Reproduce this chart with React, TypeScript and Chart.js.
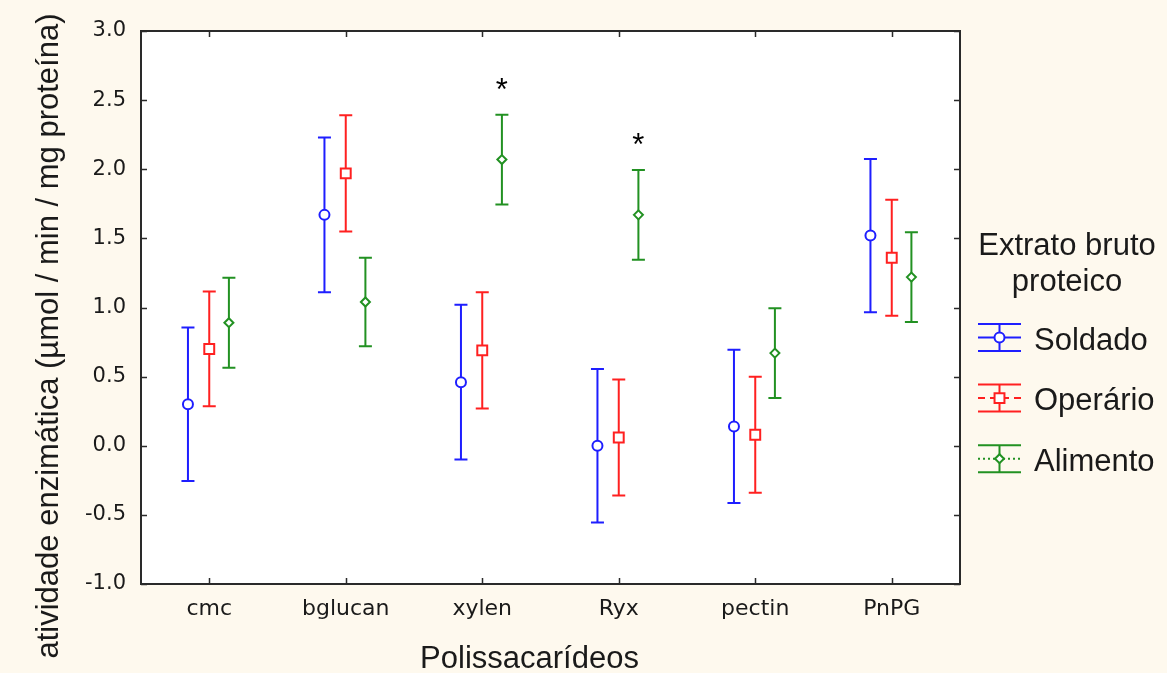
import React, { useEffect, useRef } from 'react';
import { Chart, registerables } from 'chart.js';

Chart.register(...registerables);

// ---------- data ----------
const categories = ['cmc', 'bglucan', 'xylen', 'Ryx', 'pectin', 'PnPG'];
const seriesNames = ['Soldado', 'Operário', 'Alimento'];
const soldadoMean = [0.30, 1.67, 0.46, 0.00, 0.14, 1.52];
const soldadoErr = [0.555, 0.56, 0.56, 0.555, 0.555, 0.555];
const operarioMean = [0.70, 1.97, 0.69, 0.06, 0.08, 1.36];
const operarioErr = [0.415, 0.42, 0.42, 0.42, 0.42, 0.42];
const alimentoMean = [0.89, 1.04, 2.07, 1.67, 0.67, 1.22];
const alimentoErr = [0.325, 0.32, 0.325, 0.325, 0.325, 0.325];
const starredAlimento = ['xylen', 'Ryx'];
const yTickValues = [-1, -0.5, 0, 0.5, 1, 1.5, 2, 2.5, 3];
const xTitle = 'Polissacarídeos';
const yTitle = 'atividade enzimática (µmol / min / mg proteína)';
const legendTitle = ['Extrato bruto', 'proteico'];

// ---------- styles ----------
const CREAM = '#fef9ee';
const INK = '#1a1a1a';
const seriesStyles = [
  { color: '#1e1eff', pointStyle: 'circle', radius: 5, dash: [] as number[], offset: -0.156 },
  { color: '#ff2020', pointStyle: 'rect', radius: 7, dash: [7, 5], offset: 0 },
  { color: '#229122', pointStyle: 'rectRot', radius: 4.5, dash: [2, 3], offset: 0.144 },
];
const means = [soldadoMean, operarioMean, alimentoMean];
const errs = [soldadoErr, operarioErr, alimentoErr];
const BIG_FONT = '31px "Liberation Sans", Arial, sans-serif';
const CAP = 6.5;

function drawMarker(ctx: CanvasRenderingContext2D, style: string, x: number, y: number, r: number) {
  ctx.beginPath();
  if (style === 'circle') {
    ctx.arc(x, y, r, 0, Math.PI * 2);
  } else if (style === 'rect') {
    const s = r * Math.SQRT1_2;
    ctx.rect(x - s, y - s, 2 * s, 2 * s);
  } else {
    ctx.moveTo(x - r, y);
    ctx.lineTo(x, y - r);
    ctx.lineTo(x + r, y);
    ctx.lineTo(x, y + r);
    ctx.closePath();
  }
  ctx.fillStyle = '#fff';
  ctx.fill();
  ctx.stroke();
}

const customPlugin = {
  id: 'customDecor',
  beforeDraw(chart: any) {
    const { ctx, chartArea: a } = chart;
    ctx.save();
    ctx.fillStyle = CREAM;
    ctx.fillRect(0, 0, chart.width, chart.height);
    ctx.fillStyle = '#ffffff';
    ctx.fillRect(a.left, a.top, a.right - a.left, a.bottom - a.top);
    ctx.restore();
  },
  beforeDatasetsDraw(chart: any) {
    const { ctx } = chart;
    const xs = chart.scales.x;
    const ys = chart.scales.y;
    ctx.save();
    ctx.lineWidth = 2;
    seriesStyles.forEach((st, s) => {
      ctx.strokeStyle = st.color;
      categories.forEach((_, i) => {
        const px = xs.getPixelForValue(i + st.offset);
        const pt = ys.getPixelForValue(means[s][i] + errs[s][i]);
        const pb = ys.getPixelForValue(means[s][i] - errs[s][i]);
        ctx.beginPath();
        ctx.moveTo(px, pt);
        ctx.lineTo(px, pb);
        ctx.moveTo(px - CAP, pt);
        ctx.lineTo(px + CAP, pt);
        ctx.moveTo(px - CAP, pb);
        ctx.lineTo(px + CAP, pb);
        ctx.stroke();
      });
    });
    ctx.restore();
  },
  afterDatasetsDraw(chart: any) {
    const { ctx, chartArea: a } = chart;
    const xs = chart.scales.x;
    const ys = chart.scales.y;
    ctx.save();
    // frame
    ctx.strokeStyle = '#2a2a2a';
    ctx.lineWidth = 2;
    ctx.strokeRect(a.left, a.top, a.right - a.left, a.bottom - a.top);
    ctx.beginPath();
    ctx.lineWidth = 1.5;
    yTickValues.forEach((v) => {
      const py = Math.round(ys.getPixelForValue(v)) + 0.5;
      ctx.moveTo(a.left, py);
      ctx.lineTo(a.left + 6, py);
      ctx.moveTo(a.right, py);
      ctx.lineTo(a.right - 6, py);
    });
    categories.forEach((_, i) => {
      const px = Math.round(xs.getPixelForValue(i)) + 0.5;
      ctx.moveTo(px, a.bottom);
      ctx.lineTo(px, a.bottom - 6);
      ctx.moveTo(px, a.top);
      ctx.lineTo(px, a.top + 6);
    });
    ctx.stroke();
    // stars
    ctx.fillStyle = '#000';
    ctx.font = BIG_FONT;
    ctx.textAlign = 'center';
    ctx.textBaseline = 'alphabetic';
    starredAlimento.forEach((c) => {
      const i = categories.indexOf(c);
      const px = xs.getPixelForValue(i + seriesStyles[2].offset);
      const pt = ys.getPixelForValue(alimentoMean[i] + alimentoErr[i]);
      ctx.fillText('*', px, pt - 15);
    });
    ctx.restore();
  },
  afterDraw(chart: any) {
    const { ctx, chartArea: a } = chart;
    ctx.save();
    ctx.fillStyle = INK;
    ctx.font = BIG_FONT;
    ctx.textBaseline = 'alphabetic';
    // x title
    ctx.textAlign = 'center';
    ctx.fillText(xTitle, (a.left + a.right) / 2 - 21, 668);
    // y title
    ctx.save();
    ctx.translate(58, 336);
    ctx.rotate(-Math.PI / 2);
    ctx.fillText(yTitle, 0, 0);
    ctx.restore();
    // legend title
    const lcx = 1067;
    ctx.fillText(legendTitle[0], lcx, 255);
    ctx.fillText(legendTitle[1], lcx, 291);
    // legend items
    const x0 = 978;
    const x1 = 1021;
    const xc = (x0 + x1) / 2;
    seriesStyles.forEach((st, s) => {
      const cy = 337.5 + s * 60.6;
      const h = 13.5;
      ctx.strokeStyle = st.color;
      ctx.lineWidth = 2;
      ctx.setLineDash([]);
      ctx.beginPath();
      ctx.moveTo(x0, cy - h);
      ctx.lineTo(x1, cy - h);
      ctx.moveTo(x0, cy + h);
      ctx.lineTo(x1, cy + h);
      ctx.moveTo(xc, cy - h);
      ctx.lineTo(xc, cy + h);
      ctx.stroke();
      ctx.setLineDash(st.dash);
      ctx.beginPath();
      ctx.moveTo(x0, cy);
      ctx.lineTo(x1, cy);
      ctx.stroke();
      ctx.setLineDash([]);
      drawMarker(ctx, st.pointStyle, xc, cy, st.radius);
      ctx.fillStyle = INK;
      ctx.textAlign = 'left';
      ctx.fillText(seriesNames[s], 1034, cy + 12);
    });
    ctx.restore();
  },
};

export default function App() {
  const canvasRef = useRef<HTMLCanvasElement | null>(null);

  useEffect(() => {
    const canvas = canvasRef.current;
    if (!canvas) return;
    const datasets = seriesStyles.map((st, s) => ({
      label: seriesNames[s],
      data: categories.map((_, i) => ({ x: i + st.offset, y: means[s][i] })),
      pointStyle: st.pointStyle as any,
      pointRadius: st.radius,
      pointBorderWidth: 2,
      borderColor: st.color,
      pointBorderColor: st.color,
      pointBackgroundColor: '#ffffff',
      backgroundColor: '#ffffff',
      showLine: false,
    }));
    const chart = new Chart(canvas, {
      type: 'scatter',
      data: { datasets },
      options: {
        responsive: false,
        animation: false,
        devicePixelRatio: 1,
        layout: { padding: { top: 31, right: 207, left: 0, bottom: 0 } },
        plugins: { legend: { display: false }, tooltip: { enabled: false } },
        scales: {
          x: {
            type: 'linear',
            min: -0.5,
            max: 5.5,
            afterBuildTicks: (scale: any) => {
              scale.ticks = categories.map((_, i) => ({ value: i }));
            },
            afterFit: (scale: any) => {
              scale.height = 89;
            },
            ticks: {
              autoSkip: false,
              maxRotation: 0,
              minRotation: 0,
              padding: 12,
              color: INK,
              font: { family: '"DejaVu Sans", sans-serif', size: 22 },
              callback: (v: any) => categories[Math.round(Number(v))] ?? '',
            },
            grid: { display: false, drawTicks: false },
            border: { display: false },
          },
          y: {
            type: 'linear',
            min: -1,
            max: 3,
            afterBuildTicks: (scale: any) => {
              scale.ticks = yTickValues.map((v) => ({ value: v }));
            },
            afterFit: (scale: any) => {
              scale.width = 141;
            },
            ticks: {
              padding: 15,
              color: INK,
              font: { family: '"DejaVu Sans", sans-serif', size: 21 },
              callback: (v: any) => Number(v).toFixed(1),
            },
            grid: { display: false, drawTicks: false },
            border: { display: false },
          },
        },
      },
      plugins: [customPlugin],
    } as any);
    return () => chart.destroy();
  }, []);

  return (
    <div style={{ position: 'absolute', left: 0, top: 0, width: 1167, height: 673, background: CREAM }}>
      <canvas ref={canvasRef} width={1167} height={673} style={{ display: 'block', width: 1167, height: 673 }} />
    </div>
  );
}
